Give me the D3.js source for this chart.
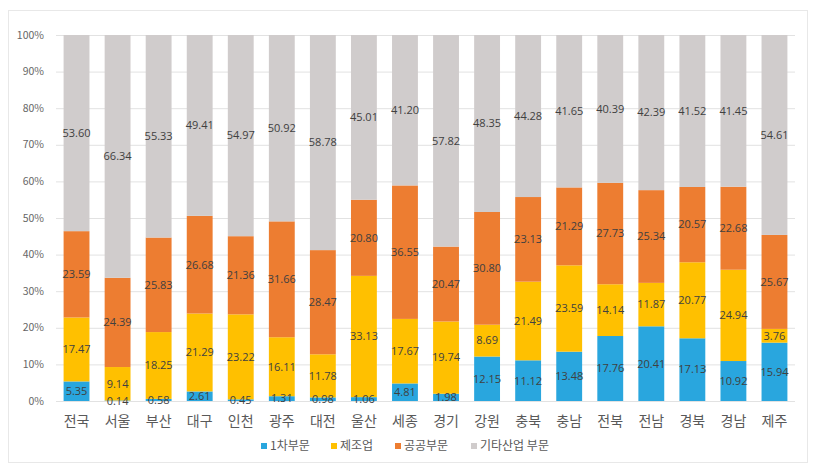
<!DOCTYPE html>
<html><head><meta charset="utf-8">
<script src="https://cdn.jsdelivr.net/npm/d3@7"></script>
<style>body{margin:0;background:#fff;}svg{display:block;font-family:"Noto Sans CJK KR","Noto Sans",sans-serif;}</style>
</head><body><svg id="c" width="815" height="467"></svg>
<script>
const categories = ["전국","서울","부산","대구","인천","광주","대전","울산","세종","경기","강원","충북","충남","전북","전남","경북","경남","제주"];
const primary   = [5.35,0.14,0.58,2.61,0.45,1.31,0.98,1.06,4.81,1.98,12.15,11.12,13.48,17.76,20.41,17.13,10.92,15.94];
const manufact  = [17.47,9.14,18.25,21.29,23.22,16.11,11.78,33.13,17.67,19.74,8.69,21.49,23.59,14.14,11.87,20.77,24.94,3.76];
const publicSec = [23.59,24.39,25.83,26.68,21.36,31.66,28.47,20.80,36.55,20.47,30.80,23.13,21.29,27.73,25.34,20.57,22.68,25.67];
const others    = [53.60,66.34,55.33,49.41,54.97,50.92,58.78,45.01,41.20,57.82,48.35,44.28,41.65,40.39,42.39,41.52,41.45,54.61];
const seriesNames = ["1차부문","제조업","공공부문","기타산업 부문"];
const yTicks = [0,10,20,30,40,50,60,70,80,90,100];

const colors = ["#29A6DE","#FFC000","#ED7D31","#D0CCCC"];
const svg = d3.select("#c");
const W = 815, H = 467;
const m = {left:56, right:20, top:35, bottom:66};

// outer faint frame
svg.append("rect").attr("x",8.5).attr("y",10.5).attr("width",799).attr("height",452)
  .attr("fill","none").attr("stroke","#e8e8e8");

const x = d3.scaleBand().domain(categories).range([m.left, W - m.right]).paddingInner(0.37).paddingOuter(0.185);
const y = d3.scaleLinear().domain([0,100]).range([H - m.bottom, m.top]);

// gridlines
svg.append("g").selectAll("line").data(yTicks).join("line")
  .attr("x1", m.left).attr("x2", W - m.right)
  .attr("y1", d=>y(d)+0.5).attr("y2", d=>y(d)+0.5)
  .attr("stroke","#e2e2e2").attr("stroke-width",1);

// y tick labels
svg.append("g").selectAll("text").data(yTicks).join("text")
  .attr("x", 44).attr("y", d=>y(d)).attr("dy","0.35em").attr("text-anchor","end")
  .attr("font-size",10.5).attr("fill","#666").text(d=>d+"%");

const table = categories.map((c,i)=>({cat:c, s0:primary[i], s1:manufact[i], s2:publicSec[i], s3:others[i]}));
const keys = ["s0","s1","s2","s3"];
// 100% stacked: normalise each category to its total
const stacked = d3.stack().keys(keys).offset(d3.stackOffsetExpand)(table);
const yp = v => y(v*100);

stacked.forEach((layer,k)=>{
  const g = svg.append("g");
  g.selectAll("rect").data(layer).join("rect")
    .attr("x", d=>x(d.data.cat)).attr("width", x.bandwidth())
    .attr("y", d=>yp(d[1])).attr("height", d=>yp(d[0])-yp(d[1]))
    .attr("fill", colors[k]);
});
stacked.forEach((layer,k)=>{
  svg.append("g").selectAll("text").data(layer).join("text")
    .attr("x", d=>x(d.data.cat)+x.bandwidth()/2)
    .attr("y", d=>yp((d[0]+d[1])/2)).attr("dy","0.35em")
    .attr("text-anchor","middle").attr("font-size",11).attr("fill","#404040")
    .attr("font-family","'Open Sans','Noto Sans',sans-serif")
    .text(d=>d.data[keys[k]].toFixed(2));
});

// category labels
svg.append("g").selectAll("text").data(categories).join("text")
  .attr("x", d=>x(d)+x.bandwidth()/2).attr("y", 421).attr("dy","0.35em")
  .attr("text-anchor","middle").attr("font-size",14).attr("fill","#595959").text(d=>d);

// legend
const legendX = [261, 331, 395, 471];
const lg = svg.append("g");
seriesNames.forEach((n,i)=>{
  lg.append("rect").attr("x",legendX[i]).attr("y",443).attr("width",6).attr("height",6).attr("fill",colors[i]);
  lg.append("text").attr("x",legendX[i]+9).attr("y",446).attr("dy","0.35em")
    .attr("font-size",12).attr("fill","#595959").text(n);
});
</script></body></html>
